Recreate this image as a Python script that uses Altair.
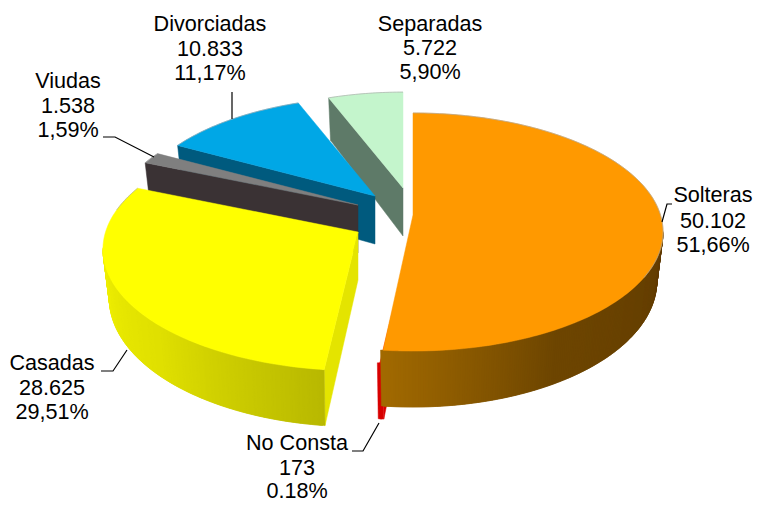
import math
import numpy as np
import pandas as pd
import altair as alt

categories = ["Solteras", "No Consta", "Casadas", "Viudas", "Divorciadas", "Separadas"]
values = [50102, 173, 28625, 1538, 10833, 5722]
counts = ["50.102", "173", "28.625", "1.538", "10.833", "5.722"]
percents = ["51,66%", "0.18%", "29,51%", "1,59%", "11,17%", "5,90%"]

top_colors = ["#FF9900", "#FF0000", "#FFFF00", "#7F7F7F", "#00A7E6", "#C4F5CC"]
face_colors = ["#9A6400", "#D80000", "#E4E400", "#3A3234", "#005A7E", "#5E7A68"]

# explode offsets: slice apex on the page, and each slice's size factor
apex_x = [413, 413, 358, 358, 375, 403]
apex_y = [215, 228, 232, 205, 196, 188]
size_k = [1.0, 1.0, 1.02, 0.985, 0.97, 0.94]
draw_order = ["Separadas", "Divorciadas", "Viudas", "Casadas", "No Consta", "Solteras"]

# outer wall shading stops: angle, r, g, b
wall_stops = {
    "Solteras": [(98, 98, 60, 0), (150, 110, 70, 0), (186, 162, 106, 0)],
    "No Consta": [(186, 216, 0, 0), (187, 216, 0, 0)],
    "Casadas": [(186, 184, 184, 0), (225, 224, 224, 0), (262, 240, 240, 0)],
}

label_x = [713, 297, 52, 68, 210, 430]
label_y = [[196, 222, 246], [444, 469, 492], [364, 389, 413], [82, 107, 131], [25, 50, 74], [25, 49, 73]]

leaders = {
    "Solteras": [(672, 204), (667, 204), (662, 222)],
    "Divorciadas": [(232, 92), (232, 119)],
    "Viudas": [(103, 137), (115, 137), (154, 157)],
    "Casadas": [(101, 371), (113, 371), (127, 350)],
    "No Consta": [(352, 451), (363, 451), (379, 423)],
}

R, RY, PERSP, H, NARROW = 247.5, 116.6, 1 / 7, 48.0, 0.025


def project(ax, ay, k, deg, r, z):
    t = math.radians(deg)
    X, Y = r * math.sin(t), r * math.cos(t)
    s = 1 / (1 + PERSP * Y)
    return (ax + k * R * X * s * (1 - NARROW * z), ay + k * (-RY * Y * s) + H * z * s)


total = sum(values)
angles = {}
acc = 0.0
for c, v in zip(categories, values):
    a = acc / total * 360
    acc += v
    angles[c] = (a, acc / total * 360)

rows, edges = [], []


def add_poly(name, pts, col):
    pts = list(pts) + [pts[0]]
    for i, (x, y) in enumerate(pts):
        rows.append({"poly": name, "i": i, "x": x, "y": y, "col": col})


pid = 0
for name in draw_order:
    idx = categories.index(name)
    ax, ay, k = apex_x[idx], apex_y[idx], size_k[idx]
    a0, a1 = angles[name]
    arc = list(np.linspace(a0, a1, max(2, int(a1 - a0) + 2)))
    # start-side cut face
    if name != "Solteras":
        pid += 1
        add_poly(f"p{pid}", [project(ax, ay, k, a0, 0, 0), project(ax, ay, k, a0, 1, 0),
                             project(ax, ay, k, a0, 1, 1), project(ax, ay, k, a0, 0, 1)], face_colors[idx])
    # outer wall strips
    if name in wall_stops:
        st = wall_stops[name]
        lo, hi = max(a0, st[0][0]), min(a1, st[-1][0])
        grid = list(np.linspace(lo, hi, max(2, int((hi - lo) / 0.5) + 2)))
        for u, w in zip(grid[:-1], grid[1:]):
            m = (u + w) / 2
            a = [np.interp(m, [s[0] for s in st], [s[j] for s in st]) for j in (1, 2, 3)]
            col = "#%02x%02x%02x" % tuple(int(v) for v in a)
            pid += 1
            add_poly(f"p{pid}", [project(ax, ay, k, u, 1, 0), project(ax, ay, k, w + 0.5, 1, 0),
                                 project(ax, ay, k, w + 0.5, 1, 1), project(ax, ay, k, u, 1, 1)], col)
    # top face
    pid += 1
    add_poly(f"p{pid}", [project(ax, ay, k, a0, 0, 0)] + [project(ax, ay, k, t, 1, 0) for t in arc], top_colors[idx])
    # thin grey rim on the far edge
    for j, t in enumerate(arc):
        x, y = project(ax, ay, k, t, 1, 0)
        if t < 120 or t > 280:
            edges.append({"poly": name, "i": j, "x": x, "y": y})

df = pd.DataFrame(rows)
x_scale = alt.Scale(domain=[8, 753], range=[0, 745], nice=False, zero=False)
y_scale = alt.Scale(domain=[8, 503], range=[0, 495], nice=False, zero=False)

faces = alt.Chart(df).mark_line(strokeWidth=0.5, interpolate="linear").encode(
    x=alt.X("x:Q", scale=x_scale, axis=None),
    y=alt.Y("y:Q", scale=y_scale, axis=None),
    detail="poly:N",
    order="i:Q",
    fill=alt.Fill("col:N", scale=None),
    stroke=alt.Stroke("col:N", scale=None),
)

rim = alt.Chart(pd.DataFrame(edges)).mark_line(stroke="#A8A8A8", strokeWidth=0.8, opacity=0.8).encode(
    x=alt.X("x:Q", scale=x_scale, axis=None),
    y=alt.Y("y:Q", scale=y_scale, axis=None),
    detail="poly:N",
    order="i:Q",
)

lead_rows = []
for name, pts in leaders.items():
    for i, (x, y) in enumerate(pts):
        lead_rows.append({"poly": name, "i": i, "x": x, "y": y})
lead = alt.Chart(pd.DataFrame(lead_rows)).mark_line(stroke="#000000", strokeWidth=1.2).encode(
    x=alt.X("x:Q", scale=x_scale, axis=None),
    y=alt.Y("y:Q", scale=y_scale, axis=None),
    detail="poly:N",
    order="i:Q",
)

txt_rows = []
for i, c in enumerate(categories):
    for line, yy in zip([c, counts[i], percents[i]], label_y[i]):
        txt_rows.append({"t": line, "x": label_x[i], "y": yy})
labels = alt.Chart(pd.DataFrame(txt_rows)).mark_text(
    font="Liberation Sans", fontSize=21.6, color="#000000", align="center", baseline="middle"
).encode(
    x=alt.X("x:Q", scale=x_scale, axis=None),
    y=alt.Y("y:Q", scale=y_scale, axis=None),
    text="t:N",
)

chart = alt.layer(faces, rim, lead, labels).properties(
    width=745, height=495, padding=0, autosize=alt.AutoSizeParams(type="none")
).configure_view(stroke=None)

chart.save("out.html", embed_options={"renderer": "svg", "actions": False})
